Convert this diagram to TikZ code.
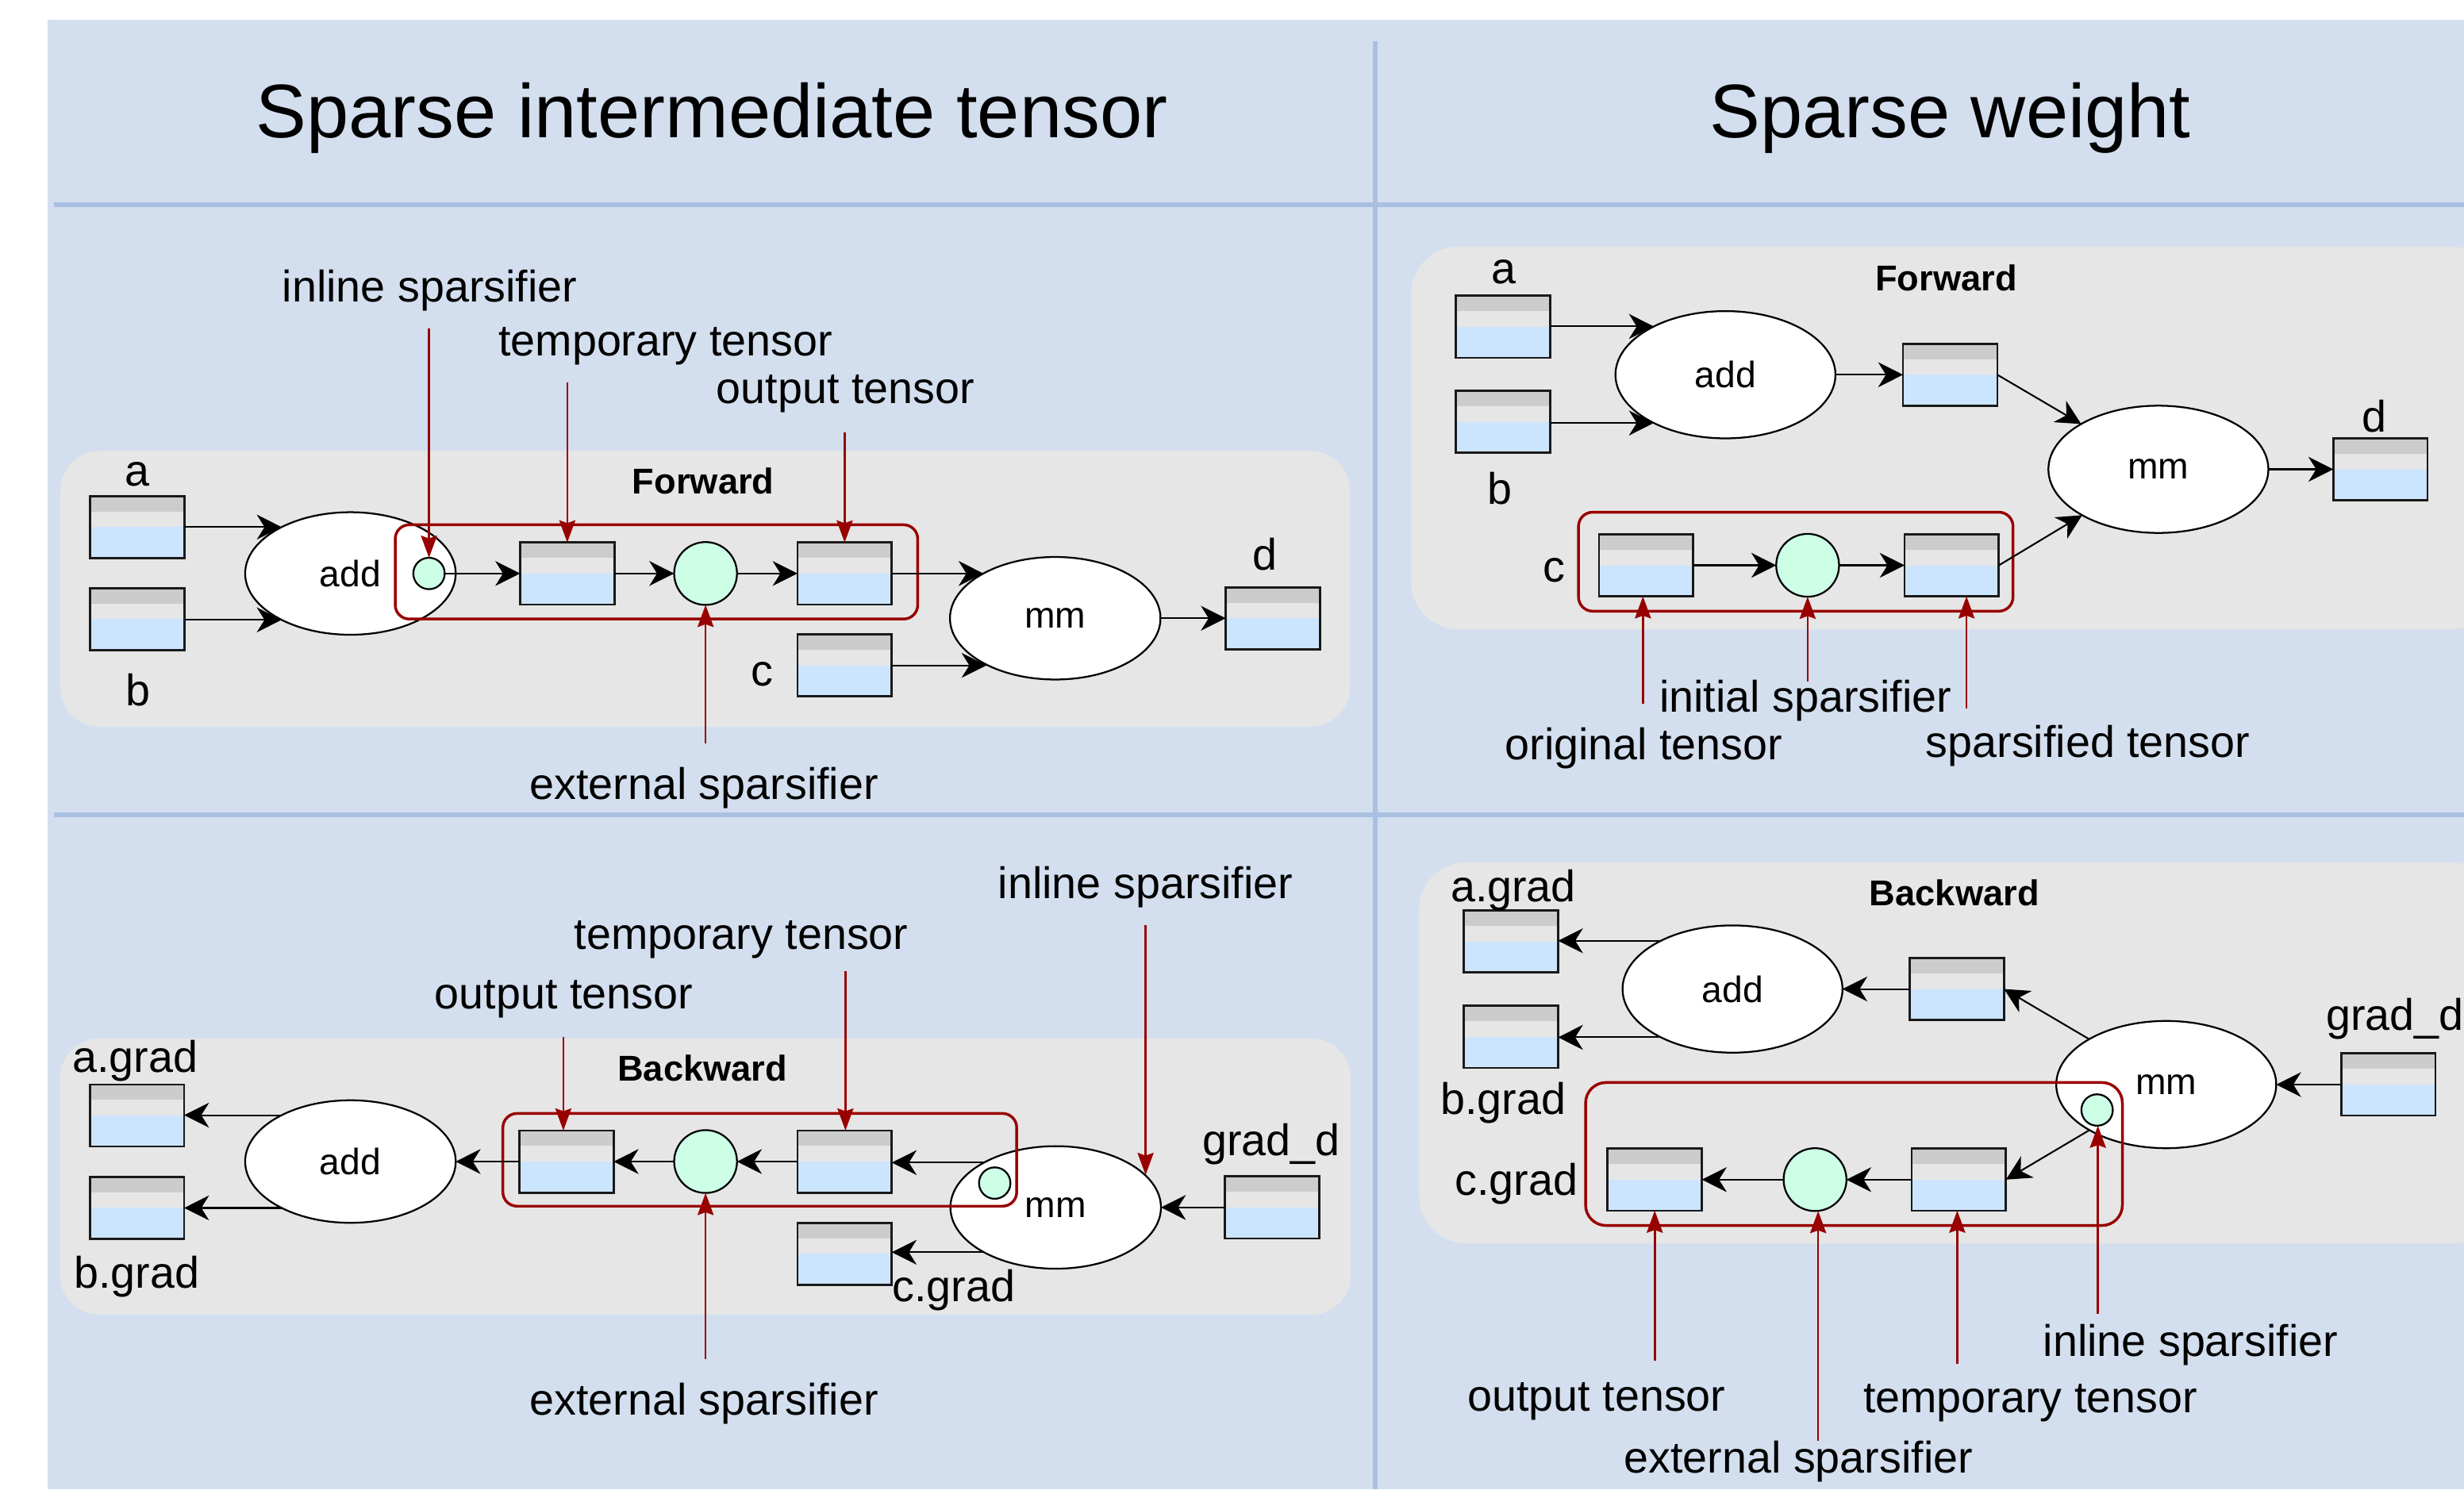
\documentclass[tikz,border=0pt]{standalone}
\usepackage{fontspec}
\setmainfont{Liberation Sans}
\usetikzlibrary{shapes.geometric,arrows.meta}

\definecolor{bgblue}{HTML}{D3DFEE}
\definecolor{rulecol}{HTML}{A9C0E2}
\definecolor{panelgray}{HTML}{E6E6E6}
\definecolor{tgray}{HTML}{CCCCCC}
\definecolor{tblue}{HTML}{CCE5FF}
\definecolor{sgreen}{HTML}{CCFFE6}
\definecolor{nred}{HTML}{990000}

\begin{document}
\begin{tikzpicture}[x=0.02cm, y=-0.02cm,
    tensor/.style={draw=black!90, line width=0.8pt, fill=panelgray, minimum width=1.2cm,
        minimum height=0.79cm, inner sep=0pt, outer sep=0pt,
        path picture={
            \fill[tblue] (path picture bounding box.west) rectangle (path picture bounding box.south east);
            \fill[tgray] (path picture bounding box.north west) rectangle ([yshift=-0.1975cm]path picture bounding box.north east);
        }},
    op/.style={ellipse, draw, line width=0.65pt, fill=white, minimum width=2.68cm,
        minimum height=1.56cm, inner sep=0pt, outer sep=0pt, font=\fontsize{13.3}{16}\selectfont},
    opw/.style={op, minimum width=2.8cm, minimum height=1.62cm},
    sparsifier/.style={circle, draw, line width=0.65pt, fill=sgreen, minimum size=0.8cm, inner sep=0pt, outer sep=0pt},
    inlsp/.style={sparsifier, minimum size=0.4cm},
    grpbox/.style={draw=nred, line width=1pt, rounded corners=0.18cm},
    pane/.style={fill=panelgray, rounded corners=0.5cm},
    conn/.style={line width=0.6pt, -{Stealth[length=9pt, width=9pt, inset=2.8pt]}},
    note/.style={draw=nred, line width=0.75pt, -{Stealth[length=8pt, width=5.8pt, inset=1pt]}},
    lbl/.style={font=\fontsize{16}{19}\selectfont, inner sep=0pt},
    phase/.style={font=\bfseries\fontsize{13}{16}\selectfont, inner sep=0pt},
    heading/.style={font=\fontsize{27.5}{33}\selectfont, inner sep=0pt}
]
    \useasboundingbox (0,0) rectangle (1568,948);
    \clip (0,0) rectangle (1568,948);

    % Background and grid
    \fill[bgblue] (30.3,12.6) rectangle (1568,948);
    \draw[rulecol, line width=1.7pt] (875,26) -- (875,948);
    \draw[rulecol, line width=1.7pt] (34.5,130.3) -- (1568,130.3);
    \draw[rulecol, line width=1.7pt] (34.5,518.7) -- (1568,518.7);

    % Titles
    \node[heading] (h-inter) at (453,75) {Sparse intermediate tensor};
    \node[heading] (h-weight) at (1241,75) {Sparse weight};

    % ---------- intermediate tensor, forward ----------
    \fill[pane] (38.5,287) rectangle (859,462.5);
    \node[phase] (fwd1) at (447.5,306) {Forward};
    \node[tensor] (ta) at (87.5,335.5) {};
    \node[tensor] (tb) at (87.5,394) {};
    \node[op] (add1) at (223,365) {add};
    \node[tensor] (tmp1) at (361,365) {};
    \node[sparsifier] (sp1) at (449,365) {};
    \node[tensor] (out1) at (537.5,365) {};
    \node[tensor] (tc) at (537.5,423.5) {};
    \node[op] (mm1) at (671.5,393.5) {mm};
    \node[tensor] (td) at (810,393.5) {};
    \draw[grpbox] (251.5,334) rectangle (584,394);
    \node[inlsp] (inl1) at (273,365) {};

    \node[lbl] (l-a) at (87.5,302) {a};
    \node[lbl] (l-b) at (88,439) {b};
    \node[lbl] (l-c) at (485,429) {c};
    \node[lbl] (l-d) at (805,353) {d};

    \draw[conn] (ta.east |- add1.146) -- (add1.146);
    \draw[conn] (tb.east |- add1.214) -- (add1.214);
    \draw[conn] (inl1) -- (tmp1);
    \draw[conn] (tmp1) -- (sp1);
    \draw[conn] (sp1) -- (out1);
    \draw[conn] (out1.east) -- (mm1.148 |- out1.east);
    \draw[conn] (tc.east) -- (mm1.214 |- tc.east);
    \draw[conn] (mm1) -- (td);

    \coordinate (n-inl1) at (273,209);
    \coordinate (n-tmp1) at (361,243.5);
    \coordinate (n-out1) at (537.5,275);
    \coordinate (n-ext1) at (449,473);
    \draw[note] (n-inl1) -- (inl1.north);
    \draw[note] (n-tmp1) -- (tmp1.north);
    \draw[note] (n-out1) -- (out1.north);
    \draw[note] (n-ext1) -- (sp1.south);
    \node[lbl] (t-inl1) at (273.5,185) {inline sparsifier};
    \node[lbl] (t-tmp1) at (423.5,220.5) {temporary tensor};
    \node[lbl] (t-out1) at (538,250.5) {output tensor};
    \node[lbl] (t-ext1) at (448,501.5) {external sparsifier};

    % ---------- intermediate tensor, backward ----------
    \fill[pane] (38.3,661) rectangle (859.6,836.7);
    \node[phase] (bwd1) at (447,680) {Backward};
    \node[tensor] (tag) at (87.2,710) {};
    \node[tensor] (tbg) at (87.2,768.7) {};
    \node[op] (add2) at (223,739.3) {add};
    \node[tensor] (out2) at (360.5,739.3) {};
    \node[sparsifier] (sp2) at (449,739.3) {};
    \node[tensor] (tmp2) at (537.5,739.3) {};
    \node[op] (mm2) at (671.8,768.5) {mm};
    \node[tensor] (tcg) at (537.5,798) {};
    \node[tensor] (tgd) at (809.5,768.5) {};
    \draw[grpbox] (320,708.7) rectangle (647,767.7);
    \node[inlsp] (inl2) at (633,753) {};

    \node[lbl] (l-ag) at (86,675) {a.grad};
    \node[lbl] (l-bg) at (87,812.5) {b.grad};
    \node[lbl] (l-cg) at (607,821) {c.grad};
    \node[lbl] (l-gd) at (809,728) {grad\_d};

    \draw[conn] (add2.146) -- (tag.east |- add2.146);
    \draw[conn] (add2.214) -- (tbg.east |- add2.214);
    \draw[conn] (out2) -- (add2);
    \draw[conn] (sp2) -- (out2);
    \draw[conn] (tmp2) -- (sp2);
    \draw[conn] (mm2.148) -- (tmp2.east |- mm2.148);
    \draw[conn] (mm2.212) -- (tcg.east |- mm2.212);
    \draw[conn] (tgd) -- (mm2);

    \coordinate (n-out2) at (358.5,660);
    \coordinate (n-tmp2) at (538,618);
    \coordinate (n-inl2) at (729,589);
    \coordinate (n-ext2) at (449,865);
    \draw[note] (n-out2) -- (n-out2 |- out2.north);
    \draw[note] (n-tmp2) -- (n-tmp2 |- tmp2.north);
    \draw[note] (n-inl2) -- (n-inl2 |- mm2.20);
    \draw[note] (n-ext2) -- (sp2.south);
    \node[lbl] (t-out2) at (358.7,636) {output tensor};
    \node[lbl] (t-tmp2) at (471.7,598) {temporary tensor};
    \node[lbl] (t-inl2) at (729,564.5) {inline sparsifier};
    \node[lbl] (t-ext2) at (448,893.5) {external sparsifier};

    % ---------- sparse weight, forward ----------
    \fill[pane, rounded corners=0.6cm] (898,157) rectangle (1590,400.5);
    \node[phase] (fwd2) at (1238.5,177) {Forward};
    \node[tensor] (ta2) at (956.5,208) {};
    \node[tensor] (tb2) at (956.5,268.5) {};
    \node[opw] (add3) at (1098,238.5) {add};
    \node[tensor] (tmid) at (1241,238.5) {};
    \node[opw] (mm3) at (1373.5,298.7) {mm};
    \node[tensor] (td2) at (1514.8,298.7) {};
    \node[tensor] (tcc) at (1047.5,359.8) {};
    \node[sparsifier] (sp3) at (1150.3,359.8) {};
    \node[tensor] (tsp) at (1242,359.8) {};
    \draw[grpbox] (1004.5,326) rectangle (1281,389);

    \node[lbl] (l-a2) at (956.7,173) {a};
    \node[lbl] (l-b2) at (954.5,311) {b};
    \node[lbl] (l-c2) at (989,363) {c};
    \node[lbl] (l-d2) at (1511,265) {d};

    \draw[conn] (ta2.east |- add3.146) -- (add3.146);
    \draw[conn] (tb2.east |- add3.214) -- (add3.214);
    \draw[conn] (add3) -- (tmid);
    \draw[conn] (tmid.east) -- (mm3);
    \draw[conn] (mm3) -- (td2);
    \draw[conn] (tcc) -- (sp3);
    \draw[conn] (sp3) -- (tsp);
    \draw[conn] (tsp.east) -- (mm3);

    \coordinate (n-orig) at (1045.5,447.8);
    \coordinate (n-init) at (1150.3,433.8);
    \coordinate (n-spd) at (1251.4,450.7);
    \draw[note] (n-orig) -- (n-orig |- tcc.south);
    \draw[note] (n-init) -- (sp3.south);
    \draw[note] (n-spd) -- (n-spd |- tsp.south);
    \node[lbl] (t-init) at (1149,446) {initial sparsifier};
    \node[lbl] (t-orig) at (1046,476) {original tensor};
    \node[lbl] (t-spd) at (1328.6,474.5) {sparsified tensor};

    % ---------- sparse weight, backward ----------
    \fill[pane, rounded corners=0.6cm] (903,549) rectangle (1590,791.5);
    \node[phase] (bwd2) at (1243.7,568.4) {Backward};
    \node[tensor] (tag2) at (961.5,599.3) {};
    \node[tensor] (tbg2) at (961.5,660) {};
    \node[opw] (add4) at (1102.5,629.5) {add};
    \node[tensor] (tmid2) at (1245.3,629.5) {};
    \node[opw] (mm4) at (1378.5,690.3) {mm};
    \node[tensor] (tgd2) at (1519.8,690.3) {};
    \node[tensor] (tcg2) at (1053,750.8) {};
    \node[sparsifier] (sp4) at (1155,750.8) {};
    \node[tensor] (ttmp2) at (1246.5,750.8) {};
    \draw[grpbox, rounded corners=0.26cm] (1009,689) rectangle (1350.6,780);
    \node[inlsp] (inl4) at (1334.5,706.5) {};

    \node[lbl] (l-ag2) at (963,566.7) {a.grad};
    \node[lbl] (l-bg2) at (956.6,702) {b.grad};
    \node[lbl] (l-cg2) at (965,753.5) {c.grad};
    \node[lbl] (l-gd2) at (1524,648.3) {grad\_d};

    \draw[conn] (add4.146) -- (tag2.east |- add4.146);
    \draw[conn] (add4.214) -- (tbg2.east |- add4.214);
    \draw[conn] (tmid2) -- (add4);
    \draw[conn] (mm4) -- (tmid2.east);
    \draw[conn] (mm4) -- (ttmp2.east);
    \draw[conn] (tgd2) -- (mm4);
    \draw[conn] (ttmp2) -- (sp4);
    \draw[conn] (sp4) -- (tcg2);

    \coordinate (n-out4) at (1053,866);
    \coordinate (n-ext4) at (1157,917);
    \coordinate (n-tmp4) at (1245.5,868);
    \coordinate (n-inl4) at (1335,836);
    \draw[note] (n-out4) -- (tcg2.south);
    \draw[note] (n-ext4) -- (n-ext4 |- sp4.south);
    \draw[note] (n-tmp4) -- (n-tmp4 |- ttmp2.south);
    \draw[note] (n-inl4) -- (n-inl4 |- inl4.south);
    \node[lbl] (t-out4) at (1016,892) {output tensor};
    \node[lbl] (t-ext4) at (1144.5,930) {external sparsifier};
    \node[lbl] (t-tmp4) at (1292,893) {temporary tensor};
    \node[lbl] (t-inl4) at (1394,856) {inline sparsifier};
\end{tikzpicture}
\end{document}
